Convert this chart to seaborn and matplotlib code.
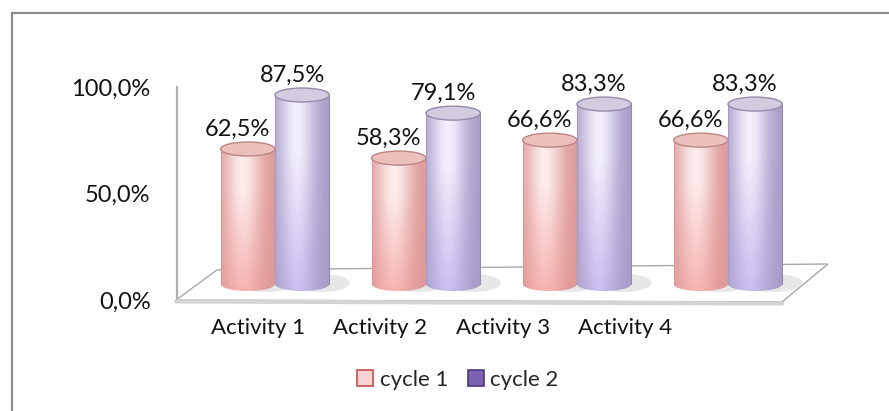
import numpy as np
import pandas as pd
import matplotlib
matplotlib.use("Agg")
import matplotlib.pyplot as plt
import seaborn as sns
from matplotlib.patches import Polygon, Ellipse, PathPatch, Patch
from matplotlib.path import Path
from matplotlib.lines import Line2D
import matplotlib.transforms as mtransforms
import matplotlib.colors as mcolors

# ---- data ----
categories = ["Activity 1", "Activity 2", "Activity 3", "Activity 4"]
series_names = ["cycle 1", "cycle 2"]
cycle1 = [62.5, 58.3, 66.6, 66.6]
cycle2 = [87.5, 79.1, 83.3, 83.3]
value_labels_c1 = ["62,5%", "58,3%", "66,6%", "66,6%"]
value_labels_c2 = ["87,5%", "79,1%", "83,3%", "83,3%"]
ytick_vals = [0, 50, 100]
ytick_labels = ["0,0%", "50,0%", "100,0%"]

df = pd.DataFrame({
    "Activity": categories * 2,
    "Cycle": [series_names[0]] * 4 + [series_names[1]] * 4,
    "Value": cycle1 + cycle2,
})

sns.set_theme(style="white")
plt.rcParams["font.family"] = ["Lato", "DejaVu Sans"]

W, H = 889, 411
fig = plt.figure(figsize=(W / 100, H / 100), dpi=100)
fig.patch.set_facecolor("white")


def fx(x):
    return x / W


def fy(y):
    return 1 - y / H


TXT = "#111111"

# outer border (top & left visible)
fig.add_artist(Line2D([fx(12), fx(889)], [fy(13), fy(13)], transform=fig.transFigure,
                      color="#8c8c8c", lw=1.6, zorder=5))
fig.add_artist(Line2D([fx(12), fx(12)], [fy(13), fy(411)], transform=fig.transFigure,
                      color="#8c8c8c", lw=1.6, zorder=5))

# floor
floor_px = [(176, 300), (217, 270), (828, 264), (782, 302)]
fig.add_artist(Polygon([(fx(x), fy(y)) for x, y in floor_px], closed=True,
                       transform=fig.transFigure, facecolor="white",
                       edgecolor="#a8a8a8", lw=1.0, zorder=1))
fig.add_artist(Line2D([fx(176), fx(782)], [fy(301.5), fy(303.5)], transform=fig.transFigure,
                      color="#d4d4d4", lw=3.0, zorder=1))

# front axes (frame + tick labels)
ax0 = fig.add_axes([fx(177), fy(300), fx(782) - fx(177), fy(87) - fy(300)])
ax0.set_ylim(0, 100)
unit = 122.3
ax0.set_xlim((177 - 258) / unit, (782 - 258) / unit)
ax0.patch.set_visible(False)
for s in ["top", "right", "bottom"]:
    ax0.spines[s].set_visible(False)
ax0.spines["left"].set_color("#b0b0b0")
ax0.spines["left"].set_linewidth(1.6)
ax0.set_yticks(ytick_vals)
ax0.set_yticklabels(ytick_labels, fontsize=17, color=TXT)
ax0.set_xticks(range(len(categories)))
ax0.set_xticklabels(categories, fontsize=16, color=TXT)
ax0.tick_params(axis="y", length=0, pad=19)
ax0.tick_params(axis="x", length=0, pad=13)
ax0.grid(False)
ax0.set_zorder(0)

# bar axes
y_bottom_px, y_top_px = 301.3, 68
ax = fig.add_axes([fx(199.5), fy(y_bottom_px), 604 / W, fy(y_top_px) - fy(y_bottom_px)])
ax.set_zorder(2)
ax.patch.set_visible(False)

palette = {"cycle 1": "#f7b5b3", "cycle 2": "#cbbdf0"}
sns.barplot(data=df, x="Activity", y="Value", hue="Cycle", palette=palette,
            width=0.72, gap=0, dodge=True, legend=False, ax=ax, saturation=1)
ax.set_xlim(-0.5, 3.5)
ax.set_ylim(-8, 100)
ax.set_axis_off()

styles = {
    0: dict(edge="#dd9896", top="#fdeceb", bottom="#f6b4b2",
            cap="#ecc0bc", capedge="#bb8581"),
    1: dict(edge="#a79bc8", top="#f3effc", bottom="#cbbdef",
            cap="#d3cce1", capedge="#938bab"),
}
eh = 14 / 2.16  # ellipse height in data units
labels_all = [value_labels_c1, value_labels_c2]
lbl_tr = mtransforms.offset_copy(ax.transData, fig=fig, x=-10, y=20, units="dots")


def rgb(c):
    return np.array(mcolors.to_rgb(c))


for hi, cont in enumerate(ax.containers):
    st = styles[hi]
    for bi, bar in enumerate(cont):
        x0 = bar.get_x()
        w = bar.get_width()
        h = bar.get_height()
        xc = x0 + w / 2
        bar.set_facecolor("none")
        bar.set_edgecolor("none")
        # soft floor shadow to the right of the bar
        ax.add_patch(Ellipse((xc + w * 0.35, 0.5), w * 1.05, eh * 1.3, facecolor="#e2e2e2",
                             edgecolor="none", alpha=0.8, zorder=2.5))
        # silhouette: rectangle + lower half of bottom ellipse
        t = np.linspace(np.pi, 2 * np.pi, 60)
        xs = xc + (w / 2) * np.cos(t)
        ys = (eh / 2) * np.sin(t)
        verts = list(zip(xs, ys)) + [(x0 + w, h), (x0, h), (xs[0], ys[0])]
        codes = [Path.MOVETO] + [Path.LINETO] * (len(verts) - 2) + [Path.CLOSEPOLY]
        clip = PathPatch(Path(verts, codes), transform=ax.transData,
                         facecolor="none", edgecolor="none")
        ax.add_patch(clip)
        # gradient
        N, M = 120, 60
        tt = np.linspace(0, 1, N)
        vv = np.linspace(0, 1, M)
        f = np.exp(-((tt - 0.4) / 0.33) ** 2)
        edge = rgb(st["edge"])
        img = np.zeros((M, N, 3))
        for j, v in enumerate(vv):
            k = min(1.0, v * 1.4)
            base = rgb(st["bottom"]) * (1 - k) + rgb(st["top"]) * k
            img[j] = edge[None, :] * (1 - f[:, None]) + base[None, :] * f[:, None]
        im = ax.imshow(img, extent=[x0, x0 + w, -eh / 2, h], origin="lower",
                       aspect="auto", interpolation="bilinear", zorder=3)
        im.set_clip_path(clip)
        ax.plot([x0, x0], [0, h], color=st["edge"], lw=0.8, zorder=3.5)
        ax.plot([x0 + w, x0 + w], [0, h], color=st["capedge"], lw=0.8, zorder=3.5)
        # top cap
        ax.add_patch(Ellipse((xc, h), w, eh, facecolor=st["cap"],
                             edgecolor=st["capedge"], lw=1.0, zorder=4))
        ax.text(xc, h, labels_all[hi][bi], transform=lbl_tr, ha="center", va="center",
                fontsize=17, color=TXT, zorder=6)

# legend
handles = [Patch(facecolor="#f9d3d3", edgecolor="#c0504d", lw=1.2),
           Patch(facecolor="#7a62ae", edgecolor="#4c3a82", lw=1.2)]
fig.legend(handles, series_names, loc="center", bbox_to_anchor=(fx(458), fy(380)),
           ncol=2, frameon=False, fontsize=16, handlelength=0.7, handleheight=0.7,
           handletextpad=0.3, columnspacing=0.9)

fig.savefig("out.png", dpi=100)
